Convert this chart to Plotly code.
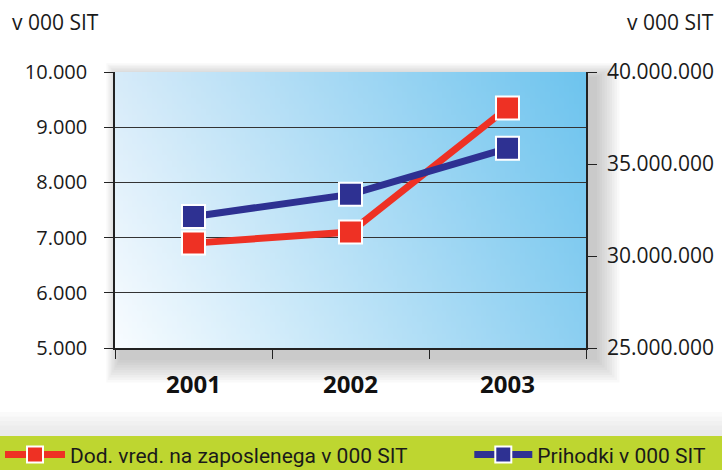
import base64
import struct
import zlib

import plotly.graph_objects as go

# podatki
leta = ["2001", "2002", "2003"]
dod_vrednost = [6900, 7100, 9350]              # Dod. vred. na zaposlenega v 000 SIT (leva os)
prihodki = [32150000, 33350000, 35850000]     # Prihodki v 000 SIT (desna os)

levi_ticki = [5000, 6000, 7000, 8000, 9000, 10000]
levi_napisi = ["5.000", "6.000", "7.000", "8.000", "9.000", "10.000"]
desni_ticki = [25000000, 30000000, 35000000, 40000000]
desni_napisi = ["25.000.000", "30.000.000", "35.000.000", "40.000.000"]

RDECA = "#EE3124"
MODRA = "#2E3192"
ZELENA = "#BED630"
FONT = "Open Sans, Noto Sans, sans-serif"

# robovi risalne ploskve v pikslih
L, R, T, B = 115, 586, 72, 348
W, H = 722, 470


def px2paper(x, y):
    return (x - L) / (R - L), (B - y) / (B - T)


def gradient_png(w, h, tl, tr, bl, br):
    """Majhna PNG slika z bilinearnim prelivom (ozadje grafa)."""
    rows = b""
    for j in range(h):
        v = j / (h - 1)
        row = b"\x00"
        for i in range(w):
            u = i / (w - 1)
            px = []
            for c in range(3):
                top = tl[c] * (1 - u) + tr[c] * u
                bot = bl[c] * (1 - u) + br[c] * u
                px.append(int(round(top * (1 - v) + bot * v)))
            row += bytes(px)
        rows += row

    def chunk(tag, data):
        return struct.pack(">I", len(data)) + tag + data + struct.pack(">I", zlib.crc32(tag + data) & 0xFFFFFFFF)

    png = b"\x89PNG\r\n\x1a\n"
    png += chunk(b"IHDR", struct.pack(">IIBBBBB", w, h, 8, 2, 0, 0, 0))
    png += chunk(b"IDAT", zlib.compress(rows, 9))
    png += chunk(b"IEND", b"")
    return "data:image/png;base64," + base64.b64encode(png).decode()


ozadje = gradient_png(96, 48,
                      (0xD6, 0xEB, 0xF9), (0x6E, 0xC4, 0xEE),
                      (0xF8, 0xFC, 0xFF), (0x8C, 0xCF, 0xF1))

fig = go.Figure()

fig.add_trace(go.Scatter(
    x=leta, y=dod_vrednost, name="Dod. vred. na zaposlenega v 000 SIT",
    mode="lines+markers", legend="legend",
    line=dict(color=RDECA, width=7),
    marker=dict(symbol="square", size=23, color=RDECA, line=dict(color="white", width=2)),
))
fig.add_trace(go.Scatter(
    x=leta, y=prihodki, name="Prihodki v 000 SIT", yaxis="y2",
    mode="lines+markers", legend="legend2",
    line=dict(color=MODRA, width=7),
    marker=dict(symbol="square", size=23, color=MODRA, line=dict(color="white", width=2)),
))

# senca pod grafom
shapes = []
for i in range(10):
    s = 2 + 2.5 * i
    x0, y0 = px2paper(L + 6 - s * 0.6, B + 10 + s)
    x1, y1 = px2paper(R + 9 + s, T + 6 - s * 0.6)
    shapes.append(dict(type="rect", xref="paper", yref="paper", x0=x0, y0=y0, x1=x1, y1=y1,
                       fillcolor="#777777", opacity=0.045, line_width=0, layer="below"))

# svetlo siv pas nad legendo
for i in range(5):
    x0, y0 = px2paper(0, 436)
    x1, y1 = px2paper(W, 412 + 4.5 * i)
    shapes.append(dict(type="rect", xref="paper", yref="paper", x0=x0, y0=y0, x1=x1, y1=y1,
                       fillcolor="#d8d8d8", opacity=0.12, line_width=0, layer="below"))

# zelen pas z legendo
x0, y0 = px2paper(0, H + 2)
x1, y1 = px2paper(W, 436)
shapes.append(dict(type="rect", xref="paper", yref="paper", x0=x0, y0=y0, x1=x1, y1=y1,
                   fillcolor=ZELENA, line_width=0, layer="below"))

ax_l, ay_t = px2paper(10, 22)
ax_r, _ = px2paper(716, 22)

legenda = dict(
    orientation="h", xref="container", yref="container",
    y=0.032, xanchor="left", yanchor="middle",
    bgcolor="rgba(0,0,0,0)",
    font=dict(family="Roboto, sans-serif", size=21, color="#1a1a1a"),
)

fig.update_layout(
    width=W, height=H,
    margin=dict(l=L, r=W - R, t=T, b=H - B, autoexpand=False),
    paper_bgcolor="white",
    plot_bgcolor="rgba(0,0,0,0)",
    font=dict(family=FONT, size=20, color="#1a1a1a"),
    showlegend=True,
    legend=dict(legenda, x=-0.014, itemwidth=60),
    legend2=dict(legenda, x=0.65, itemwidth=58),
    xaxis=dict(
        type="category", range=[-0.5, 2.5], tickson="boundaries",
        ticks="outside", ticklen=9, tickcolor="#222", tickwidth=1,
        showline=True, linecolor="#222", linewidth=1.5,
        showgrid=False, ticklabelstandoff=14,
        tickfont=dict(family=FONT, size=24, color="#111", weight="bold"),
    ),
    yaxis=dict(
        range=[5000, 10000], tickvals=levi_ticki, ticktext=levi_napisi,
        ticks="outside", ticklen=9, tickcolor="#222",
        showline=True, linecolor="#222", linewidth=1.5,
        showgrid=True, gridcolor="#333", gridwidth=1,
        zeroline=False, ticklabelstandoff=13,
    ),
    yaxis2=dict(
        range=[25000000, 40000000], tickvals=desni_ticki, ticktext=desni_napisi,
        overlaying="y", side="right",
        ticks="outside", ticklen=9, tickcolor="#222",
        showline=True, linecolor="#222", linewidth=1.5,
        showgrid=False, zeroline=False, ticklabelstandoff=6,
        tickfont=dict(size=21),
    ),
    images=[dict(source=ozadje, xref="x domain", yref="y domain", x=0, y=1,
                 sizex=1, sizey=1, sizing="stretch", xanchor="left", yanchor="top",
                 layer="below")],
    shapes=shapes,
    annotations=[
        dict(text="v 000 SIT", xref="paper", yref="paper", x=ax_l, y=ay_t,
             xanchor="left", yanchor="middle", showarrow=False, font=dict(size=21)),
        dict(text="v 000 SIT", xref="paper", yref="paper", x=ax_r, y=ay_t,
             xanchor="right", yanchor="middle", showarrow=False, font=dict(size=21)),
    ],
)

# brez privzetega roba strani, da se slika začne v kotu okna
fig.write_html("out.html", config={"displayModeBar": False},
               post_script="document.body.style.margin='0';")
